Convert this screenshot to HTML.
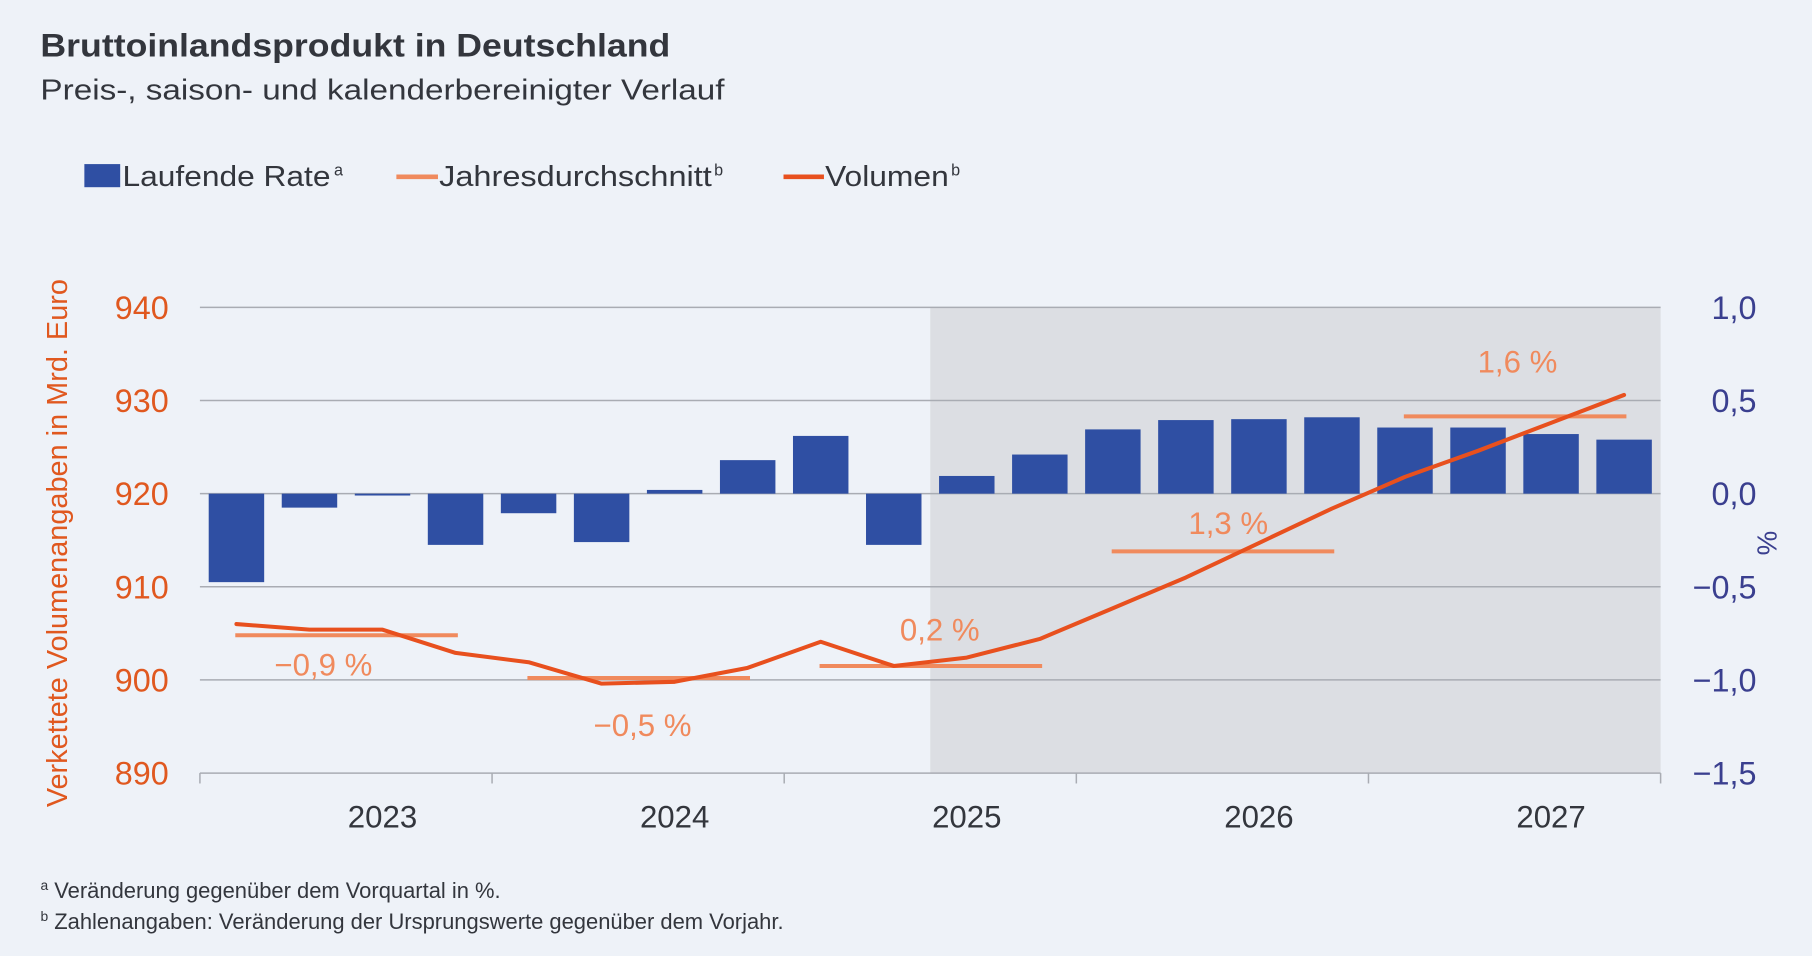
<!DOCTYPE html>
<html><head><meta charset="utf-8">
<style>
html,body{margin:0;padding:0;background:#eef2f8;}
svg{display:block;font-family:"Liberation Sans",sans-serif;}
</style></head>
<body>
<svg id="chart" width="1812" height="956" viewBox="0 0 1568 827.3" preserveAspectRatio="none" xmlns="http://www.w3.org/2000/svg">
<rect x="0" y="0" width="1568" height="828" fill="#eef2f8"/>
<text x="35" y="49" font-size="28" font-weight="bold" fill="#33363d" textLength="545" lengthAdjust="spacingAndGlyphs">Bruttoinlandsprodukt in Deutschland</text>
<text x="35" y="86" font-size="25" fill="#33363d" textLength="592" lengthAdjust="spacingAndGlyphs">Preis-, saison- und kalenderbereinigter Verlauf</text>
<g>
 <g>
  <rect x="73" y="142" width="31" height="20" fill="#2f4fa3"/>
  <text x="106" y="161" font-size="25" fill="#33363d" textLength="180" lengthAdjust="spacingAndGlyphs">Laufende Rate</text>
  <text x="289" y="152" font-size="14" fill="#33363d">a</text>
 </g>
 <g>
  <line x1="343" y1="153" x2="379" y2="153" stroke="#f08a5d" stroke-width="4"/>
  <text x="380" y="161" font-size="25" fill="#33363d" textLength="236" lengthAdjust="spacingAndGlyphs">Jahresdurchschnitt</text>
  <text x="618" y="152" font-size="14" fill="#33363d">b</text>
 </g>
 <g>
  <line x1="678" y1="153" x2="713" y2="153" stroke="#e8501e" stroke-width="4"/>
  <text x="714" y="161" font-size="25" fill="#33363d" textLength="107" lengthAdjust="spacingAndGlyphs">Volumen</text>
  <text x="823" y="152" font-size="14" fill="#33363d">b</text>
 </g>
</g>
<g id="plot"></g>
<text x="0" y="0" transform="translate(58,470) rotate(-90)" text-anchor="middle" font-size="25" fill="#e0581f">Verkettete Volumenangaben in Mrd. Euro</text>
<text x="0" y="0" transform="translate(1521,470) rotate(90)" text-anchor="middle" font-size="24" fill="#3a3f8f">%</text>
<text x="35" y="777" font-size="19" fill="#33363d"><tspan font-size="12" dy="-7">a</tspan><tspan dy="7"> Veränderung gegenüber dem Vorquartal in %.</tspan></text>
<text x="35" y="804" font-size="19" fill="#33363d"><tspan font-size="12" dy="-7">b</tspan><tspan dy="7"> Zahlenangaben: Veränderung der Ursprungswerte gegenüber dem Vorjahr.</tspan></text>
</svg>
<script>
const years = ["2023","2024","2025","2026","2027"];
const rateValues = [-0.475,-0.075,-0.01,-0.275,-0.105,-0.26,0.02,0.18,0.31,-0.275,0.095,0.21,0.345,0.395,0.40,0.41,0.355,0.355,0.32,0.29];
const volumeValues = [906.0,905.4,905.4,902.9,901.9,899.6,899.8,901.3,904.1,901.5,902.4,904.4,907.7,911.0,914.7,918.4,921.8,924.6,927.6,930.6];
const annualAvg = [904.8,900.2,901.5,913.8,928.3];
const annualLabels = ["\u22120,9 %","\u22120,5 %","0,2 %","1,3 %","1,6 %"];
const leftTicks = [890,900,910,920,930,940];
const rightTicks = ["\u22121,5","\u22121,0","\u22120,5","0,0","0,5","1,0"];
const rightTickValues = [-1.5,-1.0,-0.5,0,0.5,1.0];

const NS="http://www.w3.org/2000/svg";
const g=document.getElementById('plot');
const X0=173, X1=1437, YT=266, YB=669;
const nQ=rateValues.length, qw=(X1-X0)/nQ;
const xQ=i=>X0+qw*(i+0.5);
const yL=v=>YB-(v-890)/(940-890)*(YB-YT);
const yR=v=>YB-(v+1.5)/(2.5)*(YB-YT);
function mk(tag,attrs){const e=document.createElementNS(NS,tag);for(const k in attrs)e.setAttribute(k,attrs[k]);g.appendChild(e);return e;}

let sh=mk('rect',{x:X0+qw*10,y:YT,width:X1-(X0+qw*10),height:YB-YT,fill:'#dcdee3'});


leftTicks.forEach(v=>{
 let l=mk('line',{x1:X0,x2:X1,y1:yL(v),y2:yL(v),stroke:'#a9acb3','stroke-width':1.3});
 
 
 let t=mk('text',{x:146,y:yL(v)+10,'text-anchor':'end','font-size':28,fill:'#e0581f'});
 t.textContent=v;
 
 
});
rightTicks.forEach((s,i)=>{
 let t=mk('text',{x:1520,y:yR(rightTickValues[i])+10,'text-anchor':'end','font-size':28,fill:'#3a3f8f'});
 t.textContent=s;
 
 
});
for(let k=0;k<=years.length;k++){
 const x=X0+qw*4*k;
 let tk=mk('line',{x1:x,x2:x,y1:YB,y2:YB+9,stroke:'#a9acb3','stroke-width':1.3});
 
 
}
years.forEach((y,k)=>{
 let t=mk('text',{x:X0+qw*(4*k+2.5),y:716,'text-anchor':'middle','font-size':27,fill:'#33363d'});
 t.textContent=y;
 
 
});
rateValues.forEach((v,i)=>{
 const y0=yR(0), y1=yR(v);
 let b=mk('rect',{x:xQ(i)-24,y:Math.min(y0,y1),width:48,height:Math.max(1.5,Math.abs(y1-y0)),fill:'#2f4fa3'});
 
 
});
annualAvg.forEach((v,k)=>{
 let l=mk('line',{x1:xQ(4*k)-1,x2:xQ(4*k+3)+2,y1:yL(v),y2:yL(v),stroke:'#f08a5d','stroke-width':3.5});
 
 
});
let p=mk('polyline',{points:volumeValues.map((v,i)=>xQ(i)+','+yL(v)).join(' '),fill:'none',stroke:'#e8501e','stroke-width':3.5,'stroke-linejoin':'round','stroke-linecap':'round'});


const labOff=[[1.69,25],[2.06,40],[2.13,-32],[2.08,-25],[2.04,-48]];
annualLabels.forEach((s,k)=>{
 const o=labOff[k];
 let t=mk('text',{x:X0+qw*(4*k+o[0]),y:yL(annualAvg[k])+o[1]+10,'text-anchor':'middle','font-size':27,fill:'#f08a5d'});
 t.textContent=s;
 
 
});
</script>
</body></html>
